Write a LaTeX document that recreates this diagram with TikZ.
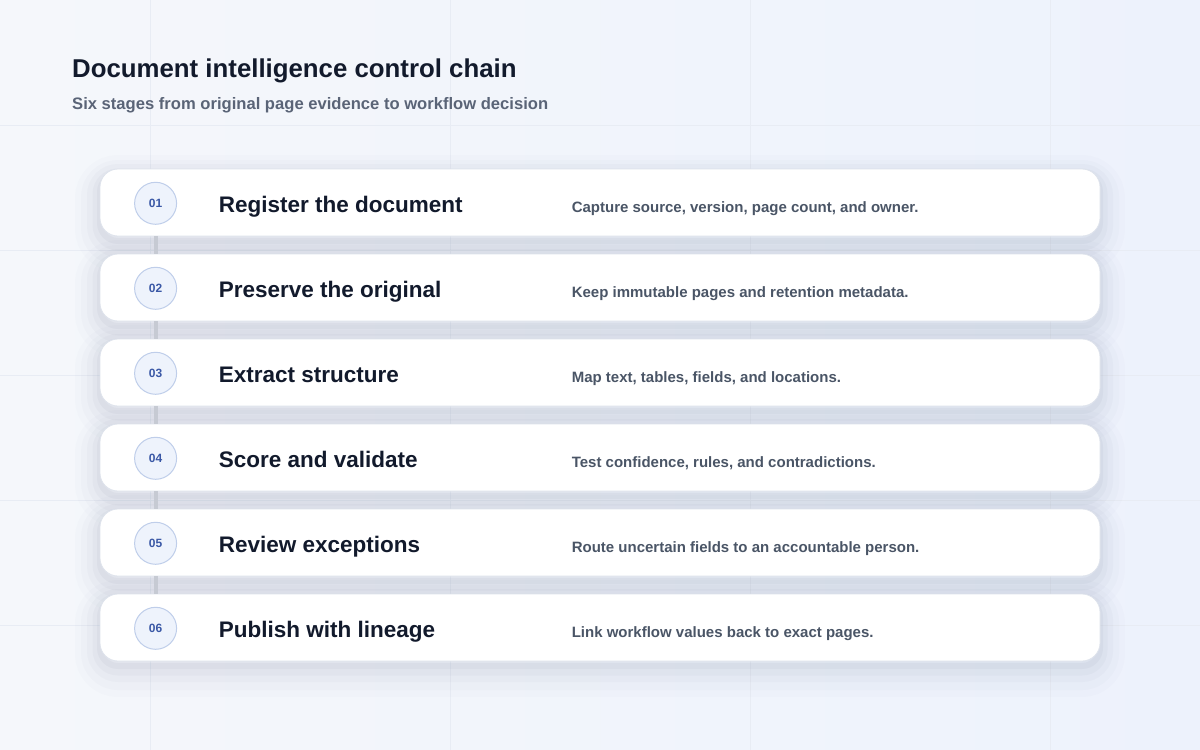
\documentclass[tikz,border=0pt]{standalone}
\usepackage{fontspec}
\setmainfont{Liberation Sans}
\usepackage{tikz}
\usetikzlibrary{positioning}
\definecolor{bgA}{HTML}{F5F7FB}
\definecolor{bgB}{HTML}{EDF2FC}
\definecolor{gridline}{HTML}{E8ECF4}
\definecolor{ink}{HTML}{121A2C}
\definecolor{slate}{HTML}{5A6477}
\definecolor{descink}{HTML}{4A5566}
\definecolor{cardline}{HTML}{DEE3EC}
\definecolor{numfill}{HTML}{EEF3FC}
\definecolor{numline}{HTML}{BFCEEA}
\definecolor{numink}{HTML}{3A58A6}
\definecolor{railgray}{HTML}{C6CAD3}
\definecolor{shadowink}{HTML}{26335A}
\tikzstyle{card} =
[
	draw=cardline,line width=0.8pt,fill=white,rounded corners=18pt,
	minimum width=1000pt, minimum height=67pt,
	preaction={draw=shadowink,draw opacity=0.010,line width=50pt,transform canvas={yshift=-11pt}},
	preaction={draw=shadowink,draw opacity=0.016,line width=38pt,transform canvas={yshift=-10pt}},
	preaction={draw=shadowink,draw opacity=0.022,line width=26pt,transform canvas={yshift=-8pt}},
	preaction={draw=shadowink,draw opacity=0.028,line width=15pt,transform canvas={yshift=-7pt}},
	preaction={draw=shadowink,draw opacity=0.034,line width=6pt,transform canvas={yshift=-5pt}}
]
\tikzstyle{num} =
[
	circle,draw=numline,line width=1pt,fill=numfill,minimum size=42pt,inner sep=0pt,
	text=numink,font=\bfseries\fontsize{12}{14}\selectfont
]
\tikzstyle{stage} =
[
	anchor=base west,inner sep=0pt,text=ink,font=\bfseries\fontsize{22.5}{26}\selectfont
]
\tikzstyle{note} =
[
	anchor=base west,inner sep=0pt,text=descink,font=\bfseries\fontsize{15}{18}\selectfont
]
\tikzstyle{rail} = [draw=railgray,line width=4pt]
\begin{document}
\begin{tikzpicture}[x=1pt,y=-1pt]

\useasboundingbox (0,0) rectangle (1200,750);
\shade[left color=bgA,right color=bgB] (0,0) rectangle (1200,750);
\draw[gridline,line width=0.8pt] (150,0) -- (150,750) (450,0) -- (450,750)
	(750,0) -- (750,750) (1050,0) -- (1050,750);
\draw[gridline,line width=0.8pt] (0,125) -- (1200,125) (0,250) -- (1200,250)
	(0,375) -- (1200,375) (0,500) -- (1200,500) (0,625) -- (1200,625);

\node[anchor=base west,inner sep=0pt,text=ink,font=\bfseries\fontsize{25.8}{30}\selectfont]
	(title) at (72,77) {Document intelligence control chain};
\node[anchor=base west,inner sep=0pt,text=slate,font=\bfseries\fontsize{16.6}{19}\selectfont]
	(subtitle) at (72,109.5) {Six stages from original page evidence to workflow decision};

\node[card] (K1) at (600,202.5) {};
\node[card][below=17.2pt of K1] (K2) {};
\node[card][below=17.2pt of K2] (K3) {};
\node[card][below=17.2pt of K3] (K4) {};
\node[card][below=17.2pt of K4] (K5) {};
\node[card][below=17.2pt of K5] (K6) {};

\node[num] (N1) at ([xshift=56pt,yshift=-0.8pt]K1.west) {01};
\node[num] (N2) at ([xshift=56pt,yshift=-0.8pt]K2.west) {02};
\node[num] (N3) at ([xshift=56pt,yshift=-0.8pt]K3.west) {03};
\node[num] (N4) at ([xshift=56pt,yshift=-0.8pt]K4.west) {04};
\node[num] (N5) at ([xshift=56pt,yshift=-0.8pt]K5.west) {05};
\node[num] (N6) at ([xshift=56pt,yshift=-0.8pt]K6.west) {06};

\node[stage] (S1) at ([xshift=119pt,yshift=-9.5pt]K1.west) {Register the document};
\node[stage] (S2) at ([xshift=119pt,yshift=-9.5pt]K2.west) {Preserve the original};
\node[stage] (S3) at ([xshift=119pt,yshift=-9.5pt]K3.west) {Extract structure};
\node[stage] (S4) at ([xshift=119pt,yshift=-9.5pt]K4.west) {Score and validate};
\node[stage] (S5) at ([xshift=119pt,yshift=-9.5pt]K5.west) {Review exceptions};
\node[stage] (S6) at ([xshift=119pt,yshift=-9.5pt]K6.west) {Publish with lineage};

\node[note] (D1) at ([xshift=472pt,yshift=-10pt]K1.west) {Capture source, version, page count, and owner.};
\node[note] (D2) at ([xshift=472pt,yshift=-10pt]K2.west) {Keep immutable pages and retention metadata.};
\node[note] (D3) at ([xshift=472pt,yshift=-10pt]K3.west) {Map text, tables, fields, and locations.};
\node[note] (D4) at ([xshift=472pt,yshift=-10pt]K4.west) {Test confidence, rules, and contradictions.};
\node[note] (D5) at ([xshift=472pt,yshift=-10pt]K5.west) {Route uncertain fields to an accountable person.};
\node[note] (D6) at ([xshift=472pt,yshift=-10pt]K6.west) {Link workflow values back to exact pages.};

\path[rail]
	(N1 |- K1.south) edge (N2 |- K2.north)
	(N2 |- K2.south) edge (N3 |- K3.north)
	(N3 |- K3.south) edge (N4 |- K4.north)
	(N4 |- K4.south) edge (N5 |- K5.north)
	(N5 |- K5.south) edge (N6 |- K6.north);

\end{tikzpicture}
\end{document}
